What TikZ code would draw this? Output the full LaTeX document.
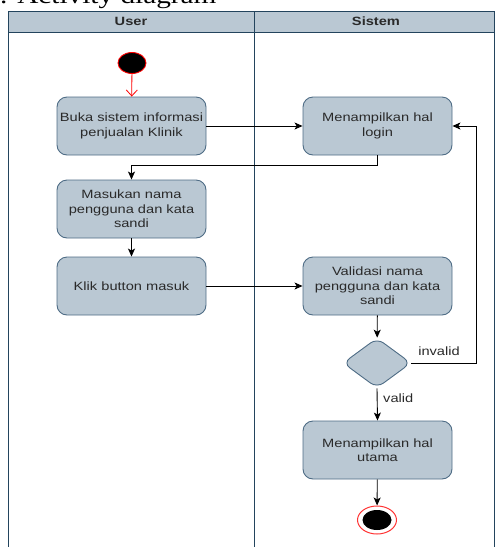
\documentclass[tikz,border=0pt]{standalone}
\usepackage{fontspec}
\setmainfont[FakeStretch=1.22]{Liberation Sans}
\newfontfamily\capfont[FakeStretch=1.22]{Liberation Serif}
\usetikzlibrary{shapes.geometric,arrows.meta}
\definecolor{boxfill}{HTML}{BAC8D3}
\definecolor{boxline}{HTML}{4E6C85}
\definecolor{laneline}{HTML}{23445D}
\definecolor{txt}{HTML}{2A2A2A}
\tikzset{
  action/.style={draw=boxline, fill=boxfill, line width=0.9pt, rounded corners=10pt,
    minimum width=149pt, minimum height=58pt, inner sep=0pt, align=center,
    text=txt, font=\fontsize{12}{14.5}\selectfont},
  decision/.style={diamond, draw=boxline, fill=boxfill, line width=0.9pt, rounded corners=8pt,
    minimum width=68pt, minimum height=50pt, inner sep=0pt, aspect=1.36},
  arr/.style={draw=black, line width=0.9pt, -{Stealth[length=8pt,width=7pt,inset=2pt]}},
  startarr/.style={draw=red, line width=0.8pt, -{Straight Barb[length=6pt,width=11pt]}},
  guard/.style={text=txt, font=\fontsize{12}{14}\selectfont, inner sep=0pt},
  lanehead/.style={text=txt, font=\fontsize{12}{14}\selectfont\bfseries},
}
\begin{document}
\begin{tikzpicture}[x=1pt, y=-1pt]
\useasboundingbox (0,0) rectangle (495,547);

% caption above the diagram
\node[anchor=base west, inner sep=0pt, font=\capfont\fontsize{24}{26}\selectfont] (cap) at (0,3.5) {. Activity diagram};

% swimlanes
\fill[boxfill] (8,11) rectangle (494,32);
\draw[laneline, line width=0.9pt] (8,560) -- (8,11) -- (494,11) -- (494,560);
\draw[laneline, line width=0.9pt] (8,32) -- (494,32);
\draw[laneline, line width=0.9pt] (254,11) -- (254,560);
\node[lanehead] (huser) at (131,21.5) {User};
\node[lanehead] (hsys) at (376,21.5) {Sistem};

% start and end
\node[ellipse, draw=red, fill=black, line width=0.9pt, minimum width=28pt, minimum height=21pt, inner sep=0pt] (start) at (132,63) {};
\node[ellipse, draw=red!80, fill=white, line width=1pt, minimum width=39pt, minimum height=28pt, inner sep=0pt] (end) at (377,520) {};
\node[ellipse, fill=black, minimum width=29pt, minimum height=20pt, inner sep=0pt] (endin) at (377,520) {};

% actions
\node[action] (b1) at (131.5,126) {Buka sistem informasi\\penjualan Klinik};
\node[action] (b2) at (131.5,209) {Masukan nama\\pengguna dan kata\\sandi};
\node[action] (b3) at (131.5,286) {Klik button masuk};
\node[action] (b4) at (377.5,126) {Menampilkan hal\\login};
\node[action] (b5) at (377.5,286) {Validasi nama\\pengguna dan kata\\sandi};
\node[decision] (d) at (377,363) {};
\node[action] (b6) at (377.5,450) {Menampilkan hal\\utama};

% flows
\draw[startarr] (start) -- (b1);
\draw[arr] (b1) -- (b4);
\draw[arr] (b4.south) -- ++(0,10) -| (b2.north);
\draw[arr] (b2) -- (b3);
\draw[arr] (b3) -- (b5);
\draw[arr] (b5) -- (d);
\draw[arr] (d.east) -- ++(65,0) |- (b4.east);
\node[guard, anchor=base] (linv) at (439,355) {invalid};
\draw[arr] (d.south) -- (b6.north);
\node[guard, anchor=west] (lval) at (383,398) {valid};
\draw[arr] (b6) -- (end);
\end{tikzpicture}
\end{document}
